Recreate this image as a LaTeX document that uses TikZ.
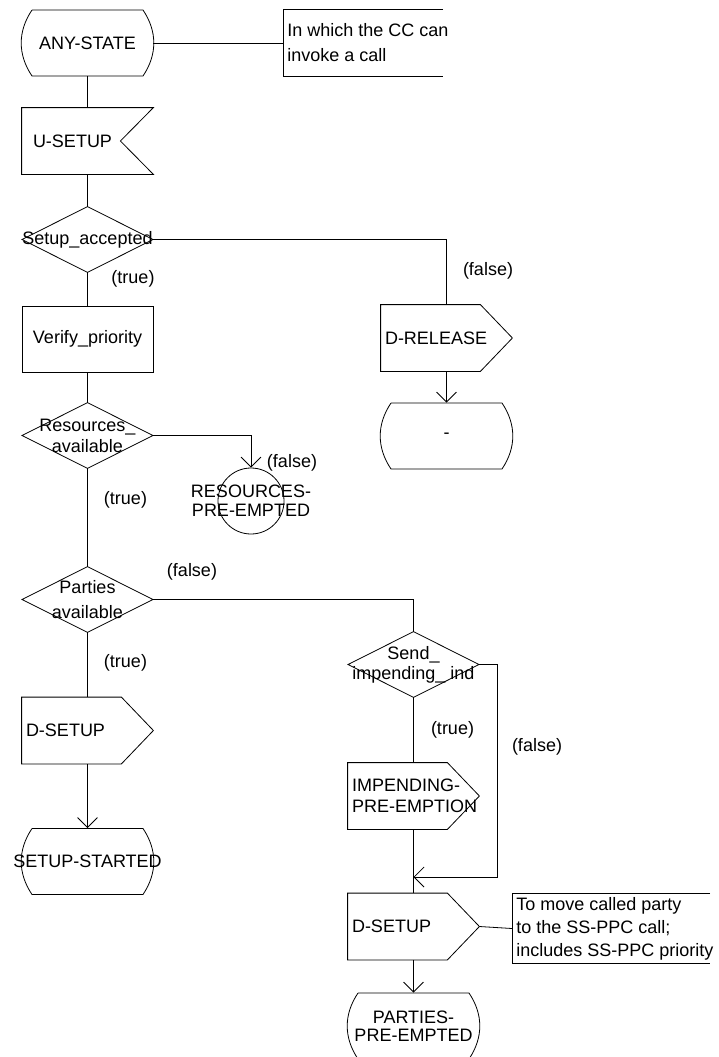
\documentclass[tikz,border=0pt]{standalone}
\usepackage{fontspec}
\setmainfont{Liberation Sans}
\usetikzlibrary{arrows.meta}

\begin{document}
\begin{tikzpicture}[x=1pt,y=1pt,line width=0.8pt,font=\fontsize{18}{21}\selectfont,
  sdlbox/.style={minimum width=131pt,minimum height=66pt,inner sep=0pt,align=center},
  sdltask/.style={sdlbox,draw},
  sdlout/.style={sdlbox,text width=123pt,align=left,inner xsep=4pt},
  sdlin/.style={sdlbox,text width=109pt,align=left,inner xsep=11pt},
  sdldec/.style={minimum width=130pt,minimum height=65pt,inner sep=0pt,align=center},
  sdlnote/.style={anchor=west,align=left,inner xsep=4pt,minimum height=66pt},
  flow/.style={-{Straight Barb[length=10pt,width=20pt]}}]
\useasboundingbox (0,0) rectangle (718,-1057);

% left column
\node[sdlbox] (anystate) at (87.5,-43) {ANY-STATE};
\node[sdlin] (usetup) at (87.5,-141) {U-SETUP};
\node[sdldec] (setupok) at (87.5,-239.5) {Setup\_accepted};
\node[sdltask] (verify) at (87.5,-339) {Verify\_priority};
\node[sdldec] (resok) at (87.5,-435.5) {Resources\_\\available};
\node[sdldec] (partok) at (87.5,-599.5) {Parties\\[4pt]available};
\node[sdlout] (dsetupa) at (87.5,-730.5) {D-SETUP};
\node[sdlbox] (started) at (87.5,-861.5) {SETUP-STARTED};

% right side
\node[sdlnote] (callnote) at (283,-43) {In which the CC can\\[4pt]invoke a call};
\node[sdlout] (drelease) at (446.5,-338) {D-RELEASE};
\node[sdlbox] (idle) at (446.5,-436) {-};
\node[sdlbox,minimum width=66pt] (respre) at (251,-501) {RESOURCES-\\[-2pt]PRE-EMPTED};
\node[sdldec] (sendind) at (413.5,-664.5) {Send\_\\[-1pt]impending\_ ind};
\node[sdlout] (impend) at (413.5,-796) {\mbox{IMPENDING-}\\\mbox{PRE-EMPTION}};
\node[sdlout] (dsetupb) at (413.5,-926.5) {D-SETUP};
\node[sdlnote,minimum height=69pt] (movenote) at (512,-928.5) {To move called party\\[2pt]to the SS-PPC call;\\[2pt]includes SS-PPC priority};
\node[sdlbox] (partpre) at (413.5,-1026) {PARTIES-\\[-3pt]PRE-EMPTED};
\coordinate (merge) at (413.5,-877);

% branch labels
\node (t1) at (133,-279) {(true)};
\node (f1) at (488,-271) {(false)};
\node (f2) at (292,-463) {(false)};
\node (t2) at (125.5,-500) {(true)};
\node (f3) at (192,-572) {(false)};
\node (t3) at (125.5,-663) {(true)};
\node (t4) at (452.5,-730) {(true)};
\node (f4) at (537,-747) {(false)};

% symbols
\foreach \s in {anystate,idle,started,partpre}
  \draw ([shift={(-55.5,33)}]\s.center) -- ([shift={(55.5,33)}]\s.center) to[bend left=34] ([shift={(55.5,-33)}]\s.center) -- ([shift={(-55.5,-33)}]\s.center) to[bend left=34] ([shift={(-55.5,33)}]\s.center);
\foreach \d in {setupok,resok,partok,sendind}
  \draw (\d.north) -- (\d.east) -- (\d.south) -- (\d.west) -- cycle;
\foreach \o in {drelease,dsetupa,impend,dsetupb}
  \draw (\o.north west) -- ([xshift=-32pt]\o.north east) -- (\o.east) -- ([xshift=-32pt]\o.south east) -- (\o.south west) -- cycle;
\draw (usetup.north west) -- (usetup.north east) -- ([xshift=-33pt]usetup.east) -- (usetup.south east) -- (usetup.south west) -- cycle;
\draw (respre.center) circle (33pt);
\foreach \c/\w in {callnote/160,movenote/198}
  \draw ([xshift=\w pt]\c.north west) -- (\c.north west) -- (\c.south west) -- ([xshift=\w pt]\c.south west);

% connectors
\draw (anystate.east) -- (callnote.west);
\draw (anystate.south) -- (usetup.north);
\draw (usetup.south) -- (setupok.north);
\draw (setupok.south) -- (verify.north);
\draw (setupok.east) -| (drelease.north);
\draw[flow] (drelease.south) -- (idle.north);
\draw (verify.south) -- (resok.north);
\draw[flow] (resok.east) -| (respre.north);
\draw (resok.south) -- (partok.north);
\draw (partok.south) -- (dsetupa.north);
\draw[flow] (dsetupa.south) -- (started.north);
\draw (partok.east) -| (sendind.north);
\draw (sendind.south) -- (impend.north);
\draw (impend.south) -- (dsetupb.north);
\draw[flow] (sendind.east) -- ++(18,0) |- (merge);
\draw (dsetupb.east) -- (movenote.west);
\draw[flow] (dsetupb.south) -- (partpre.north);
\end{tikzpicture}
\end{document}
